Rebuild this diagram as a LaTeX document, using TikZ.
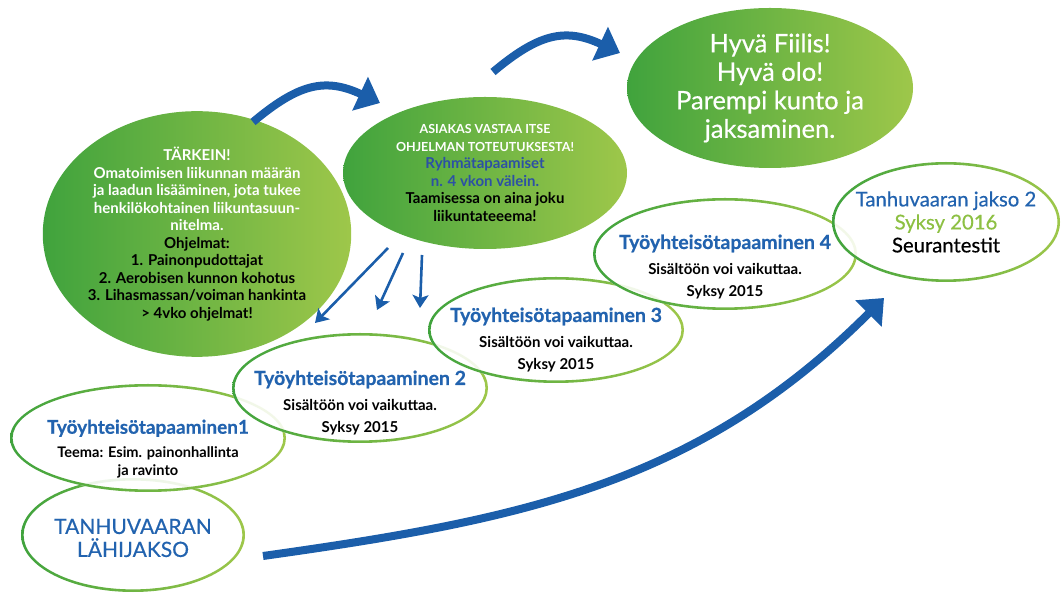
\documentclass[tikz,border=0pt]{standalone}
\usepackage{fontspec}
\setmainfont{Lato}
\newfontfamily\medfont{Lato}[FakeBold=0.45]
\usepackage{tikz}
\usetikzlibrary{shapes.geometric, arrows.meta, positioning}
\definecolor{gdark}{RGB}{64,163,61}
\definecolor{glight}{RGB}{158,199,74}
\definecolor{tblue}{RGB}{34,99,175}
\definecolor{nblue}{RGB}{44,80,165}
\definecolor{ablue}{RGB}{27,94,170}
\definecolor{sgreen}{RGB}{141,192,67}
\tikzset{
  bubble/.style 2 args={ellipse, minimum width=#1, minimum height=#2,
    inner sep=0pt, align=center, left color=gdark, right color=glight},
  ring/.style 2 args={ellipse, minimum width=#1, minimum height=#2,
    inner sep=0pt, fill=white, fill opacity=0.88,
    path picture={\shade[fill opacity=1, left color=gdark, right color=glight, even odd rule]
      (path picture bounding box.center) ellipse [x radius=#1/2, y radius=#2/2]
      (path picture bounding box.center) ellipse [x radius=#1/2-2.6pt, y radius=#2/2-2.6pt];}},
  txt/.style={align=center, inner sep=0pt},
  bigarrow/.style={-{Triangle[length=22pt, width=36pt]}, line width=8pt, color=ablue},
  thinarrow/.style={-{Stealth[length=13pt, width=16pt, inset=3pt]}, line width=2.6pt, color=ablue}
}

\begin{document}
\begin{tikzpicture}[x=1pt, y=1pt]
  \path[use as bounding box] (0,0) rectangle (1062,594);

  % --- Meetings, lower left to upper right ---
  \node[ring={224pt}{114pt}] (lahi) at (133,59) {};
  \node[ring={276pt}{108pt}] (tyo1) at (148,156) {};
  \node[ring={256pt}{110pt}] (tyo2) at (360,206) {};
  \node[ring={256pt}{106pt}] (tyo3) at (556,264) {};
  \node[ring={264pt}{112pt}] (tyo4) at (725,340) {};
  \node[ring={228pt}{120pt}] (jakso) at (946,372) {};

  \node[txt, text=tblue, font=\medfont\fontsize{21}{23}\selectfont] (lahitxt)
    at ([yshift=-3pt]lahi.center) {TANHUVAARAN\\LÄHIJAKSO};
  \node[txt, font=\fontsize{14.6}{18}\selectfont\bfseries] (tyo1txt) at ([yshift=-11pt]tyo1.center)
    {{\medfont\fontsize{19}{18}\selectfont\color{tblue}Työyhteisötapaaminen1}\\[6pt]
     Teema: Esim. painonhallinta\\ja ravinto};
  \node[txt, font=\fontsize{15}{22}\selectfont\bfseries] (tyo2txt) at ([yshift=-15pt]tyo2.center)
    {{\medfont\fontsize{19.5}{22}\selectfont\color{tblue}Työyhteisötapaaminen 2}\\[4pt]
     Sisältöön voi vaikuttaa.\\Syksy 2015};
  \node[txt, font=\fontsize{15}{22}\selectfont\bfseries] (tyo3txt) at ([yshift=-10pt]tyo3.center)
    {{\medfont\fontsize{19.5}{22}\selectfont\color{tblue}Työyhteisötapaaminen 3}\\[4pt]
     Sisältöön voi vaikuttaa.\\Syksy 2015};
  \node[txt, font=\fontsize{15}{22}\selectfont\bfseries] (tyo4txt) at ([yshift=-13pt]tyo4.center)
    {{\medfont\fontsize{19.5}{22}\selectfont\color{tblue}Työyhteisötapaaminen 4}\\[4pt]
     Sisältöön voi vaikuttaa.\\Syksy 2015};
  \node[txt, font=\medfont\fontsize{20.3}{23}\selectfont] (jaksotxt) at (jakso.center)
    {\color{tblue}Tanhuvaaran jakso 2\\\color{sgreen}Syksy 2016\\\color{black}Seurantestit};

  % --- Green bubbles ---
  \node[bubble={302pt}{216pt}, font=\fontsize{15}{17.5}\selectfont\bfseries, text=white] (tark) at (197,360)
    {TÄRKEIN!\\Omatoimisen liikunnan määrän\\ja laadun lisääminen, jota tukee\\
     henkilökohtainen liikuntasuun-\\nitelma.\\\color{black}Ohjelmat:\\\color{black}1. Painonpudottajat\\
     \color{black}2. Aerobisen kunnon kohotus\\\color{black}3. Lihasmassan/voiman hankinta\\
     \color{black}> 4vko ohjelmat!};
  \node[bubble={284pt}{152pt}, font=\fontsize{15}{17.5}\selectfont\bfseries, text=white] (asiakas) at (485,421)
    {{\fontsize{12.5}{17.5}\selectfont ASIAKAS VASTAA ITSE}\\{\fontsize{12.5}{17.5}\selectfont OHJELMAN TOTEUTUKSESTA!}\\
     \color{nblue}Ryhmätapaamiset\\\color{nblue}n. 4 vkon välein.\\
     \color{black}Taamisessa on aina joku\\\color{black}liikuntateeema!};
  \node[bubble={286pt}{160pt}, font=\medfont\fontsize{25.5}{28.5}\selectfont, text=white] (hyva) at (770,506)
    {Hyvä Fiilis!\\Hyvä olo!\\Parempi kunto ja\\jaksaminen.};

  % --- Arrows ---
  \coordinate (a1s) at (253,472);
  \coordinate (a1e) at (380,491);
  \coordinate (a2s) at (493,522);
  \coordinate (a2e) at (620,541);
  \draw[bigarrow] (a1s) to[out=40, in=155, looseness=1.2] (a1e);
  \draw[bigarrow] (a2s) to[out=40, in=155, looseness=1.2] (a2e);

  \coordinate (d1s) at (388,346);
  \coordinate (d1e) at (315,271);
  \coordinate (d2s) at (403,341);
  \coordinate (d2e) at (377,284);
  \coordinate (d3s) at (422,339);
  \coordinate (d3e) at (420,286);
  \draw[thinarrow] (d1s) -- (d1e);
  \draw[thinarrow] (d2s) -- (d2e);
  \draw[thinarrow] (d3s) -- (d3e);

  \coordinate (bs) at (263,38);
  \coordinate (be) at (884,296);
  \draw[bigarrow] (bs) to[out=8, in=-135] (be);
\end{tikzpicture}
\end{document}
